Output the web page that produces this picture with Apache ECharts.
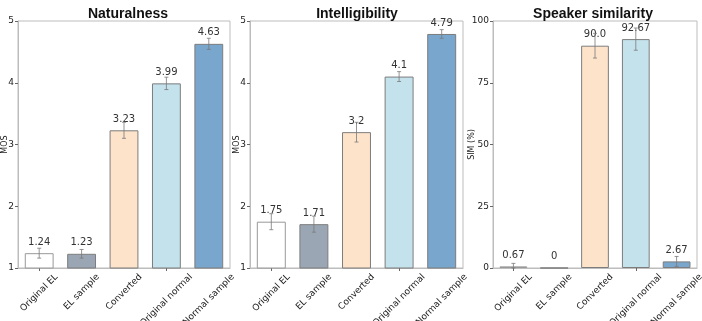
<!DOCTYPE html>
<html>
<head>
<meta charset="utf-8">
<script src="https://cdn.jsdelivr.net/npm/echarts@6/dist/echarts.min.js"></script>
<style>
  html, body { margin: 0; padding: 0; background: #fff; }
  #chart { width: 702px; height: 321px; }
</style>
</head>
<body>
<div id="chart"></div>
<script>
// data
var categories = ["Original EL", "EL sample", "Converted", "Original normal", "Normal sample"];
var naturalness = [1.24, 1.23, 3.23, 3.99, 4.63];
var naturalnessErr = [0.08, 0.07, 0.13, 0.1, 0.09];
var intelligibility = [1.75, 1.71, 3.2, 4.1, 4.79];
var intelligibilityErr = [0.13, 0.13, 0.16, 0.08, 0.07];
var similarity = [0.67, 0, 90.0, 92.67, 2.67];
var similarityErr = [1.2, 0, 5, 4.5, 2];
var titles = ["Naturalness", "Intelligibility", "Speaker similarity"];
var colors = ["#ffffff", "#9aa6b3", "#fde3ca", "#c4e2ec", "#79a6cc"];

var chartDom = document.getElementById("chart");
var myChart = echarts.init(chartDom);

var grids = [
  { left: 18, right: 472, top: 21, bottom: 53, titleX: 123, nameGap: 9 },
  { left: 250, right: 239, top: 21, bottom: 53, titleX: 352, nameGap: 9 },
  { left: 493, right: 5, top: 21, bottom: 53, titleX: 588, nameGap: 17 }
];

var panels = [
  { values: naturalness, errs: naturalnessErr, min: 1, max: 5, interval: 1, name: "MOS" },
  { values: intelligibility, errs: intelligibilityErr, min: 1, max: 5, interval: 1, name: "MOS" },
  { values: similarity, errs: similarityErr, min: 0, max: 100, interval: 25, name: "SIM (%)" }
];

// rotated tick labels, centred under the tick like matplotlib does
var LABEL_FONT = "9px 'DejaVu Sans'";
var measureCtx = document.createElement("canvas").getContext("2d");
measureCtx.font = LABEL_FONT;
function textWidth(s) { return measureCtx.measureText(s).width; }

var option = {
  animation: false,
  title: [],
  grid: [],
  xAxis: [],
  yAxis: [],
  series: []
};

panels.forEach(function (p, i) {
  var g = grids[i];
  option.grid.push({
    left: g.left, right: g.right, top: g.top, bottom: g.bottom,
    containLabel: false, outerBoundsMode: "none",
    show: true, borderColor: "#bdbdbd", borderWidth: 1, backgroundColor: "transparent"
  });
  option.title.push({
    text: titles[i],
    left: g.titleX,
    top: 2,
    textAlign: "center",
    textStyle: { fontFamily: "Liberation Sans", fontWeight: "bold", fontSize: 14, color: "#111" }
  });
  option.xAxis.push({
    type: "category",
    gridIndex: i,
    data: categories,
    axisLine: { show: true, lineStyle: { color: "#bdbdbd" } },
    axisTick: { show: true, alignWithLabel: true, length: 3, lineStyle: { color: "#666" } },
    axisLabel: { show: false }
  });
  option.yAxis.push({
    type: "value",
    gridIndex: i,
    min: p.min, max: p.max, interval: p.interval,
    name: p.name,
    nameLocation: "middle",
    nameGap: g.nameGap,
    nameMoveOverlap: false,
    nameTextStyle: { fontFamily: "DejaVu Sans", fontSize: 8, color: "#222" },
    axisLine: { show: true, lineStyle: { color: "#bdbdbd" } },
    axisTick: { show: true, length: 3, lineStyle: { color: "#666" } },
    axisLabel: { fontFamily: "DejaVu Sans", fontSize: 9, color: "#222", margin: 4 },
    splitLine: { show: false }
  });
  option.series.push({
    type: "bar",
    xAxisIndex: i,
    yAxisIndex: i,
    barWidth: "68%",
    data: p.values.map(function (v, k) {
      return {
        value: v,
        itemStyle: {
          color: colors[k],
          borderColor: k === 0 ? "#999" : "#7d7d7d",
          borderWidth: 1
        }
      };
    }),
    label: {
      show: true,
      position: "top",
      distance: 6,
      fontFamily: "DejaVu Sans",
      fontSize: 10,
      color: "#333",
      formatter: function (params) {
        var v = params.value;
        if (i === 2 && v === 90) return "90.0";
        return String(v);
      }
    }
  });
  // error bars
  option.series.push({
    type: "custom",
    xAxisIndex: i,
    yAxisIndex: i,
    z: 10,
    silent: true,
    data: p.values.map(function (v, k) { return [k, v, p.errs[k]]; }),
    renderItem: function (params, api) {
      var x = api.value(0), v = api.value(1), e = api.value(2);
      if (!e) return null;
      var top = api.coord([x, v + e]);
      var bot = api.coord([x, Math.max(v - e, p.min)]);
      var cap = 2;
      var style = { stroke: "#7a7a7a", lineWidth: 0.8 };
      return {
        type: "group",
        children: [
          { type: "line", shape: { x1: top[0], y1: top[1], x2: bot[0], y2: bot[1] }, style: style },
          { type: "line", shape: { x1: top[0] - cap, y1: top[1], x2: top[0] + cap, y2: top[1] }, style: style },
          { type: "line", shape: { x1: bot[0] - cap, y1: bot[1], x2: bot[0] + cap, y2: bot[1] }, style: style }
        ]
      };
    }
  });
  // category labels
  option.series.push({
    type: "custom",
    xAxisIndex: i,
    yAxisIndex: i,
    silent: true,
    clip: false,
    data: categories.map(function (c, k) { return [k, p.min]; }),
    renderItem: function (params, api) {
      var k = api.value(0);
      var pt = api.coord([k, api.value(1)]);
      var s = categories[k];
      var half = (textWidth(s) + 10) / (2 * Math.SQRT2);
      return {
        type: "text",
        x: pt[0],
        y: pt[1] + 4 + half,
        rotation: Math.PI / 4,
        style: {
          text: s,
          font: LABEL_FONT,
          fill: "#222",
          align: "center",
          verticalAlign: "middle"
        }
      };
    }
  });
});

option && myChart.setOption(option);
</script>
</body>
</html>
